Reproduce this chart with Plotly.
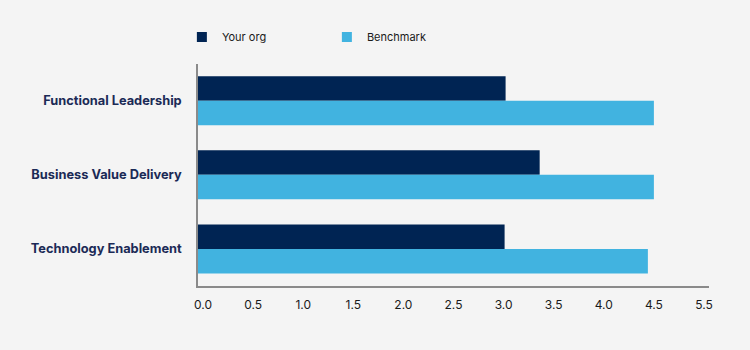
import plotly.graph_objects as go

categories = ["Functional Leadership", "Business Value Delivery", "Technology Enablement"]
your_org = [3.07, 3.41, 3.06]
benchmark = [4.55, 4.55, 4.49]
tick_vals = [0, 0.5, 1.0, 1.5, 2.0, 2.5, 3.0, 3.5, 4.0, 4.5, 5.0]
tick_text = ["0.0", "0.5", "1.0", "1.5", "2.0", "2.5", "3.0", "3.5", "4.0", "4.5", "5.5"]
series_names = ["Your org", "Benchmark"]

NAVY = "#002453"
BLUE = "#41b3e0"
BG = "#f4f4f4"

fig = go.Figure()
for vals, name, col in zip([your_org, benchmark], series_names, [NAVY, BLUE]):
    fig.add_trace(go.Bar(y=categories, x=vals, orientation="h", name=name,
                         marker=dict(color=col, line=dict(width=0)), showlegend=False))
# legend entries with small square swatches
for name, col in zip(series_names, [NAVY, BLUE]):
    fig.add_trace(go.Scatter(x=[None], y=[None], mode="markers", name=name,
                             marker=dict(symbol="square", size=10, color=col, line=dict(width=0)),
                             showlegend=True))

fig.update_layout(
    width=750, height=350,
    margin=dict(l=198, r=41, t=61, b=64),
    paper_bgcolor=BG, plot_bgcolor=BG,
    barmode="group", bargap=0.34, bargroupgap=0,
    font=dict(family="Inter, Roboto, sans-serif", color="#222222", size=12),
    showlegend=True,
    legend=dict(orientation="h", xref="container", yref="container",
                x=0.2425, y=0.894, xanchor="left", yanchor="middle",
                entrywidth=100, entrywidthmode="pixels",
                font=dict(size=11, color="#1a1a1a"), bgcolor="rgba(0,0,0,0)",
                traceorder="normal"),
    xaxis=dict(range=[0, 5.1], tickvals=tick_vals, ticktext=tick_text,
               showgrid=False, zeroline=False, showline=True,
               linecolor="#8a8a8a", linewidth=1.5,
               ticks="outside", ticklen=7, tickcolor="rgba(0,0,0,0)",
               ticklabelshift=5, tickfont=dict(size=12, color="#1a1a1a")),
    yaxis=dict(autorange="reversed", showgrid=False, zeroline=False,
               showline=True, linecolor="#8a8a8a", linewidth=1.5,
               ticks="outside", ticklen=12, tickcolor="rgba(0,0,0,0)",
               tickfont=dict(size=12.8, color="#1b2a56", family="Inter, Roboto, sans-serif", weight="bold")),
)

fig.write_html("out.html")
